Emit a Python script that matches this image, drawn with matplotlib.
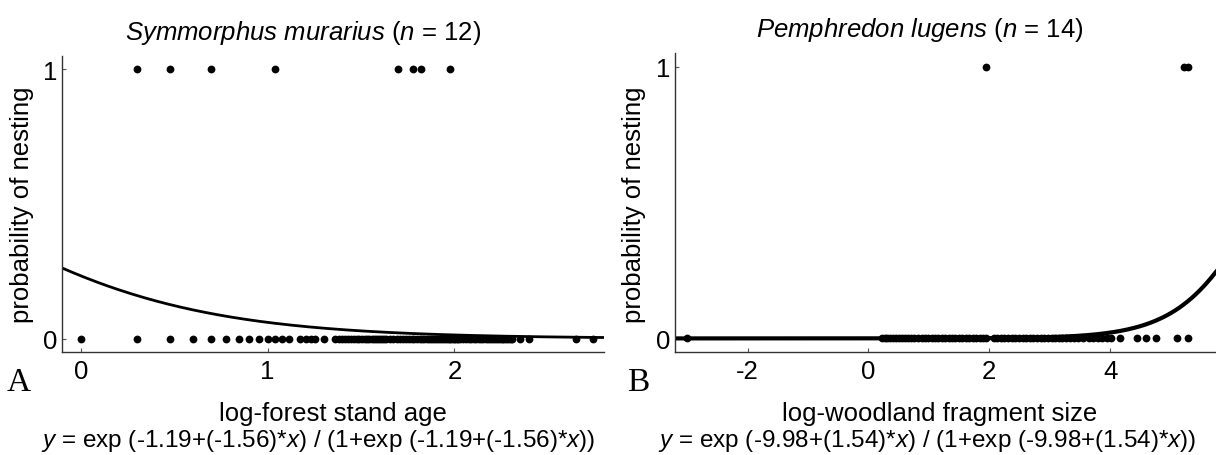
import numpy as np
import matplotlib.pyplot as plt

# 글꼴 설정 (Arial 비슷한 글꼴 + 이탤릭 수식)
plt.rcParams['font.family'] = 'Liberation Sans'
plt.rcParams['mathtext.fontset'] = 'custom'
plt.rcParams['mathtext.rm'] = 'Liberation Sans'
plt.rcParams['mathtext.it'] = 'Liberation Sans:italic'
plt.rcParams['axes.unicode_minus'] = False

# 1. 데이터
# A : Symmorphus murarius, log-forest stand age
a_nest = [0.301, 0.477, 0.699, 1.041, 1.699, 1.778, 1.820, 1.975]
a_none = [0.0, 0.301, 0.477, 0.602, 0.699, 0.778, 0.845, 0.903, 0.954, 1.0,
          1.041, 1.079, 1.114, 1.176, 1.204, 1.230, 1.255, 1.301, 1.362, 1.380,
          1.398, 1.415, 1.431, 1.447, 1.462, 1.477, 1.491, 1.505, 1.519, 1.531,
          1.544, 1.556, 1.568, 1.580, 1.591, 1.602, 1.613, 1.623, 1.633, 1.653,
          1.672, 1.690, 1.708, 1.724, 1.740, 1.756, 1.771, 1.785, 1.799, 1.813,
          1.826, 1.839, 1.851, 1.863, 1.875, 1.886, 1.898, 1.908, 1.919, 1.929,
          1.940, 1.949, 1.959, 1.968, 1.978, 1.987, 1.996, 2.004, 2.013, 2.021,
          2.029, 2.045, 2.061, 2.076, 2.090, 2.104, 2.117, 2.130, 2.143, 2.155,
          2.167, 2.179, 2.190, 2.201, 2.212, 2.223, 2.233, 2.243, 2.253, 2.262,
          2.272, 2.281, 2.290, 2.301, 2.310, 2.350, 2.400, 2.650, 2.740]
a_coef = (-1.19, -1.56)

# B : Pemphredon lugens, log-woodland fragment size
b_nest = [1.95, 5.22, 5.29]
b_none = [-3.0, 0.22, 0.27, 0.31, 0.36, 0.40, 0.45, 0.50, 0.55, 0.60, 0.66,
          0.71, 0.76, 0.82, 0.88, 0.93, 0.99, 1.05, 1.10, 1.15, 1.21, 1.27,
          1.33, 1.38, 1.44, 1.50, 1.55, 1.61, 1.67, 1.73, 1.78, 1.84, 1.90,
          1.94, 2.08, 2.13, 2.19, 2.25, 2.31, 2.37, 2.43, 2.49, 2.55, 2.61,
          2.67, 2.73, 2.79, 2.85, 2.91, 2.97, 3.03, 3.09, 3.15, 3.21, 3.27,
          3.33, 3.40, 3.47, 3.55, 3.65, 3.72, 3.79, 3.86, 3.94, 4.02, 4.16,
          4.45, 4.59, 4.75, 5.11, 5.28]
b_coef = (-9.98, 1.54)

W, H = 1216, 456

def px(x, y):
    # 픽셀 좌표 -> figure 좌표
    return x / W, 1 - y / H

def logistic(x, b0, b1):
    z = np.exp(b0 + b1 * x)
    return z / (1 + z)

# 2. 그림 생성
fig = plt.figure(figsize=(W / 100, H / 100), dpi=100)
axA = fig.add_axes([62 / W, 1 - 353 / H, 542 / W, 296 / H])
axB = fig.add_axes([675 / W, 1 - 353 / H, 541 / W, 299 / H])

fs = 18.5

def draw(ax, nest, none, coef, xlim, xticks, lw):
    xs = np.linspace(xlim[0], xlim[1], 400)
    ax.plot(xs, logistic(xs, *coef), color='black', lw=lw, zorder=2)
    ax.plot(nest, np.ones(len(nest)), 'o', color='black', ms=5.6, mec='none', zorder=3)
    ax.plot(none, np.zeros(len(none)), 'o', color='black', ms=5.6, mec='none', zorder=3)
    ax.set_xlim(*xlim)
    ax.set_ylim(-0.05, 1.05)
    ax.set_xticks(xticks)
    ax.set_xticklabels([str(t) for t in xticks])
    ax.set_yticks([0, 1])
    ax.set_yticklabels(['0', '1'])
    for s in ['top', 'right']:
        ax.spines[s].set_visible(False)
    for s in ['left', 'bottom']:
        ax.spines[s].set_color('#333333')
        ax.spines[s].set_linewidth(1.0)
    ax.tick_params(direction='in', length=3, width=0.8, colors='#555555',
                   labelcolor='black', labelsize=fs)
    ax.tick_params(axis='x', pad=5)
    ax.tick_params(axis='y', pad=3)

draw(axA, a_nest, a_none, a_coef, (-0.10, 2.80), [0, 1, 2], 2.0)
draw(axB, b_nest, b_none, b_coef, (-3.2, 5.75), [-2, 0, 2, 4], 3.0)

# 3. 텍스트
fig.text(*px(303, 33), r'$Symmorphus\ murarius$ ($n$ = 12)', ha='center', va='center', fontsize=fs)
fig.text(*px(920, 30), r'$Pemphredon\ lugens$ ($n$ = 14)', ha='center', va='center', fontsize=fs)

fig.text(*px(333, 414), 'log-forest stand age', ha='center', va='center', fontsize=fs)
fig.text(*px(940, 414), 'log-woodland fragment size', ha='center', va='center', fontsize=fs)

fig.text(*px(318, 441), r'$y$ = exp (-1.19+(-1.56)*$x$) / (1+exp (-1.19+(-1.56)*$x$))',
         ha='center', va='center', fontsize=17.5)
fig.text(*px(927, 441), r'$y$ = exp (-9.98+(1.54)*$x$) / (1+exp (-9.98+(1.54)*$x$))',
         ha='center', va='center', fontsize=17.5)

fig.text(*px(22, 205), 'probability of nesting', rotation=90, ha='center', va='center', fontsize=fs)
fig.text(*px(634, 205), 'probability of nesting', rotation=90, ha='center', va='center', fontsize=fs)

fig.text(*px(19, 383), 'A', ha='center', va='center', fontsize=24, family='Liberation Serif')
fig.text(*px(638, 383), 'B', ha='center', va='center', fontsize=24, family='Liberation Serif')

fig.savefig('out.png', dpi=100)
